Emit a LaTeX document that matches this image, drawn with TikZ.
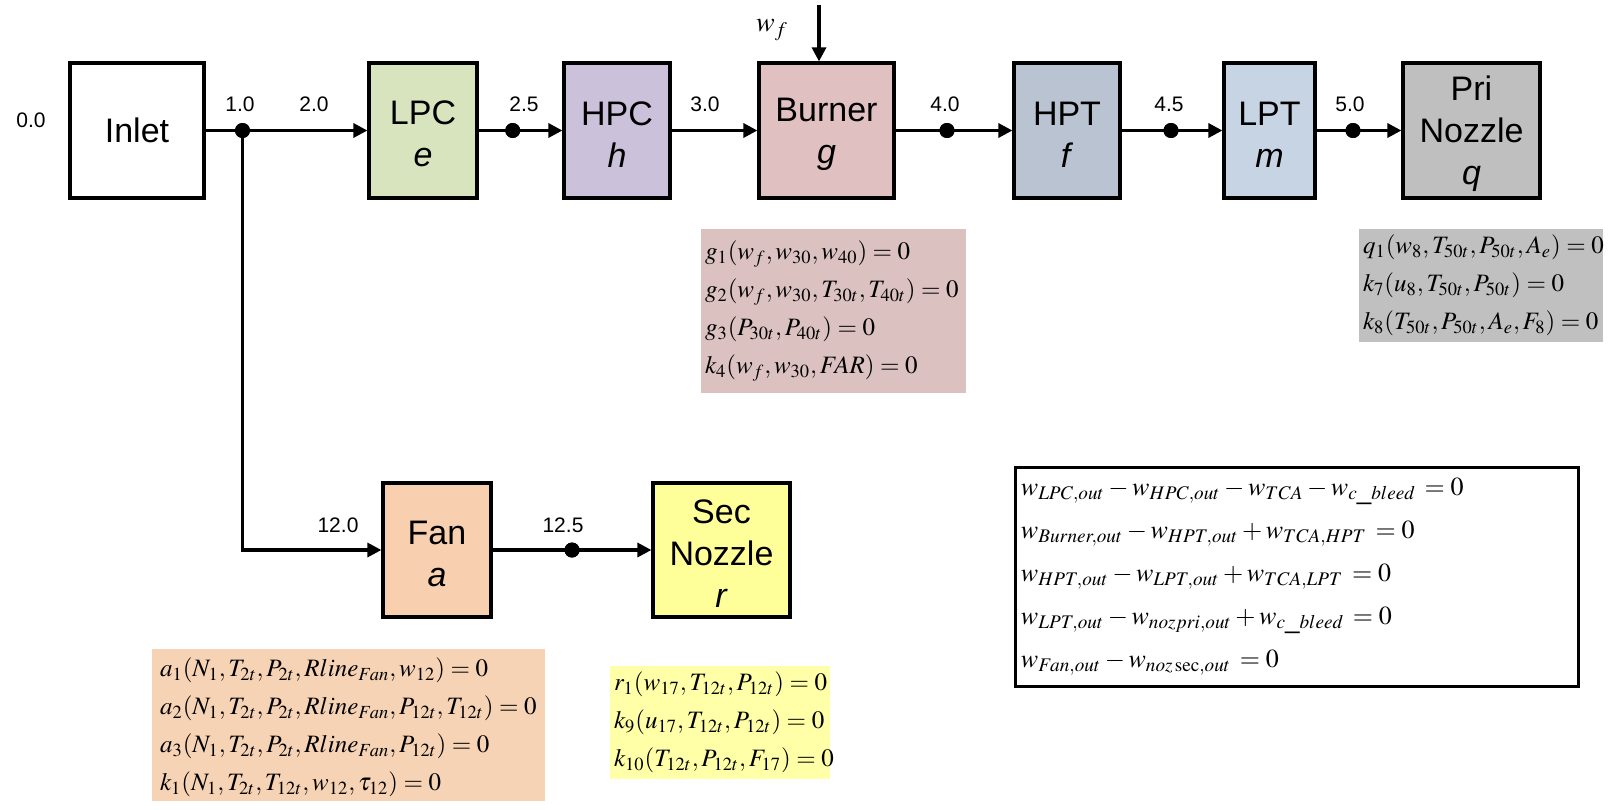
\documentclass[tikz,border=0pt]{standalone}
\usepackage{mathptmx}
\usepackage{fontspec}
\setmainfont{Liberation Sans}
\usetikzlibrary{arrows.meta}

\definecolor{lpcfill}{HTML}{D7E4BD}
\definecolor{hpcfill}{HTML}{CCC1DA}
\definecolor{burnfill}{HTML}{E0C0C0}
\definecolor{hptfill}{HTML}{B9C3D1}
\definecolor{lptfill}{HTML}{C6D4E4}
\definecolor{prifill}{HTML}{BFBFBF}
\definecolor{fanfill}{HTML}{F8CFAF}
\definecolor{secfill}{HTML}{FFFF99}
\definecolor{burneq}{HTML}{DCC1C1}
\definecolor{prieq}{HTML}{C0C0C0}
\definecolor{faneq}{HTML}{F6D3B5}
\definecolor{seceq}{HTML}{FFFFA8}

% raises the top of a label's first line so its block sits a little lower
\newcommand\toprule{\rule{0pt}{15.5pt}}

\tikzset{
  unit/.style={draw=black, line width=1.6pt, minimum height=67.5pt,
    align=center, inner sep=0pt, font=\fontsize{17}{21}\selectfont},
  flow/.style={line width=1.6pt, -{Triangle[length=7pt,width=7pt]}},
  junc/.style={circle, fill=black, inner sep=0pt, minimum size=7.5pt},
  stn/.style={font=\fontsize{10.5}{12}\selectfont},
  panel/.style={inner sep=0pt},
  eqtext/.style={anchor=west, align=left, inner sep=0pt,
    font=\fontsize{12.5}{19}\selectfont},
}

\begin{document}
\begin{tikzpicture}[x=0.5pt,y=-0.5pt]
\useasboundingbox (0,0) rectangle (1611,809);

% engine components
\node[unit, minimum width=67pt]                (inlet)  at (137,130.5)   {Inlet};
\node[unit, fill=lpcfill, minimum width=54pt]  (lpc)    at (423,130.5)   {\toprule LPC\\\textit{e}};
\node[unit, fill=hpcfill, minimum width=53pt]  (hpc)    at (617,130.5)   {\toprule HPC\\\textit{h}};
\node[unit, fill=burnfill, minimum width=67.5pt] (burner) at (826.5,130.5) {\toprule Burner\\\textit{g}};
\node[unit, fill=hptfill, minimum width=53pt]  (hpt)    at (1067,130.5)  {\toprule HPT\\\textit{f}};
\node[unit, fill=lptfill, minimum width=45.5pt] (lpt)   at (1269.5,130.5) {\toprule LPT\\\textit{m}};
\node[unit, fill=prifill, minimum width=68.5pt] (pri)   at (1471.5,130.5) {\toprule Pri\\Nozzle\\\textit{q}};
\node[unit, fill=fanfill, minimum width=54pt, minimum height=67pt] (fan) at (437,550) {\toprule Fan\\\textit{a}};
\node[unit, fill=secfill, minimum width=68.5pt, minimum height=67pt] (sec) at (721.5,550) {\toprule Sec\\Nozzle\\\textit{r}};

% station points
\node[junc] (j10) at (242.5,130.5) {};
\node[junc] (j25) at (512.7,130.5) {};
\node[junc] (j40) at (947,130.5) {};
\node[junc] (j45) at (1171,130.5) {};
\node[junc] (j50) at (1353,130.5) {};
\node[junc] (j125) at (572,550) {};
\coordinate (fuel) at (819,5);

% flow paths
\draw[flow] (inlet) -- (lpc);
\draw[flow] (lpc) -- (hpc);
\draw[flow] (hpc) -- (burner);
\draw[flow] (burner) -- (hpt);
\draw[flow] (hpt) -- (lpt);
\draw[flow] (lpt) -- (pri);
\draw[flow] (j10.center) |- (fan.west);
\draw[flow] (fan) -- (sec);
\draw[flow] (fuel) -- (fuel |- burner.north);

% redraw the station dots over the lines
\foreach \d in {j10,j25,j40,j45,j50,j125} \fill (\d) circle (3.75pt);

% station numbers
\node[stn] (s00)  at (31,120)  {0.0};
\node[stn] (s10)  at (240,104) {1.0};
\node[stn] (s20)  at (314,104) {2.0};
\node[stn] (s25)  at (524,104) {2.5};
\node[stn] (s30)  at (705,104) {3.0};
\node[stn] (s40)  at (945,104) {4.0};
\node[stn] (s45)  at (1169,104) {4.5};
\node[stn] (s50)  at (1350,104) {5.0};
\node[stn] (s120) at (338,525) {12.0};
\node[stn] (s125) at (563,525) {12.5};
\node[font=\fontsize{14}{16}\selectfont] (wf) at (772,30) {$w_f$};

% component equation panels
\node[panel, fill=burneq, minimum width=132.5pt, minimum height=82pt] (pburner) at (833.5,311) {};
\node[eqtext] (eqburner) at ([xshift=2pt]pburner.west) {%
  $g_1(w_f,w_{30},w_{40})=0$\\
  $g_2(w_f,w_{30},T_{30t},T_{40t})=0$\\
  $g_3(P_{30t},P_{40t})=0$\\
  $k_4(w_f,w_{30},FAR)=0$};

\node[panel, fill=prieq, minimum width=122pt, minimum height=56.5pt] (ppri) at (1481,285.5) {};
\node[eqtext] (eqpri) at ([xshift=2pt]ppri.west) {%
  $q_1(w_8,T_{50t},P_{50t},A_e)=0$\\
  $k_7(u_8,T_{50t},P_{50t})=0$\\
  $k_8(T_{50t},P_{50t},A_e,F_8)=0$};

\node[panel, fill=faneq, minimum width=196.5pt, minimum height=76pt] (pfan) at (348.5,725) {};
\node[eqtext] (eqfan) at ([xshift=4pt,yshift=-1pt]pfan.west) {%
  $a_1(N_1,T_{2t},P_{2t},Rline_{Fan},w_{12})=0$\\
  $a_2(N_1,T_{2t},P_{2t},Rline_{Fan},P_{12t},T_{12t})=0$\\
  $a_3(N_1,T_{2t},P_{2t},Rline_{Fan},P_{12t})=0$\\
  $k_1(N_1,T_{2t},T_{12t},w_{12},\tau_{12})=0$};

\node[panel, fill=seceq, minimum width=110pt, minimum height=56.5pt] (psec) at (720,722.5) {};
\node[eqtext] (eqsec) at ([xshift=2pt]psec.west) {%
  $r_1(w_{17},T_{12t},P_{12t})=0$\\
  $k_9(u_{17},T_{12t},P_{12t})=0$\\
  $k_{10}(T_{12t},P_{12t},F_{17})=0$};

% mass balance
\node[panel, draw=black, line width=1.5pt, minimum width=281.5pt, minimum height=109.5pt]
  (pmass) at (1296.5,576.5) {};
\node[eqtext, font=\fontsize{13}{21.5}\selectfont] (eqmass) at ([xshift=3.5pt]pmass.west) {%
  $w_{LPC,out}-w_{HPC,out}-w_{TCA}-w_{c\_bleed}\,=0$\\
  $w_{Burner,out}-w_{HPT,out}+w_{TCA,HPT}\,=0$\\
  $w_{HPT,out}-w_{LPT,out}+w_{TCA,LPT}\,=0$\\
  $w_{LPT,out}-w_{nozpri,out}+w_{c\_bleed}\,=0$\\
  $w_{Fan,out}-w_{noz\sec,out}\,=0$};
\end{tikzpicture}
\end{document}
